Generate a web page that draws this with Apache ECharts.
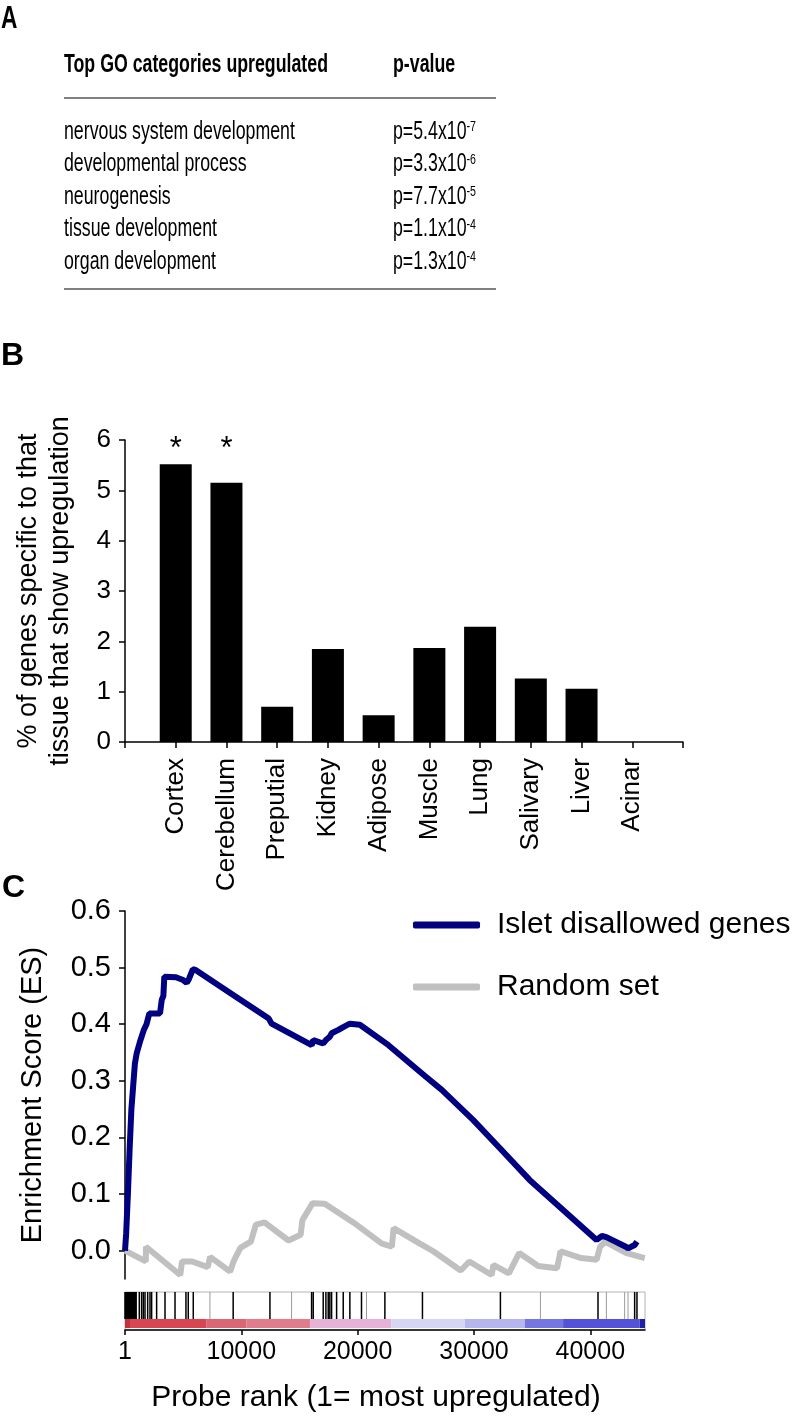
<!DOCTYPE html>
<html><head><meta charset="utf-8">
<script src="https://cdn.jsdelivr.net/npm/echarts@6/dist/echarts.min.js"></script>
<style>html,body{margin:0;padding:0;background:#fff}#c{width:796px;height:1417px}</style>
</head><body><div id="c"></div>
<script>
// ---------- Panel A data ----------
const goCategories = ['nervous system development','developmental process','neurogenesis','tissue development','organ development'];
const goPMantissa = ['5.4','3.3','7.7','1.1','1.3'];
const goPExponent = ['-7','-6','-5','-4','-4'];

// ---------- Panel B data ----------
const tissues = ['Cortex','Cerebellum','Preputial','Kidney','Adipose','Muscle','Lung','Salivary','Liver','Acinar'];
const tissuePct = [5.52,5.15,0.70,1.85,0.53,1.87,2.29,1.26,1.06,0];
const tissueSignif = [true,true,false,false,false,false,false,false,false,false];
const pctTicks = [0,1,2,3,4,5,6];

// ---------- Panel C data ----------
const isletRank = [1,100,250,400,550,700,850,1010,1300,1620,1850,2090,3010,3160,3300,3380,4380,5000,5310,5500,5830,6070,9140,12360,12460,12600,16050,16180,17040,17270,17610,17760,18350,18760,19330,20190,22650,25710,27230,29920,32270,34780,40540,41000,41380,43050,43240,43810,44010];
const isletES  = [0,0.03,0.10,0.18,0.25,0.29,0.33,0.349,0.37,0.39,0.40,0.419,0.419,0.443,0.45,0.484,0.483,0.478,0.473,0.48,0.497,0.496,0.454,0.410,0.412,0.401,0.363,0.372,0.366,0.372,0.378,0.384,0.390,0.395,0.401,0.399,0.363,0.310,0.284,0.231,0.180,0.125,0.019,0.026,0.024,0.007,0.004,0.010,0.016];
const randomRank = [1,1790,1800,4750,4900,5780,7110,7320,9040,9330,9920,10820,11250,11990,14060,15100,15250,16130,17170,19690,22050,22940,23090,25310,26500,28860,29600,31520,31670,33000,33890,35520,37140,37440,39210,40540,40840,41280,43050,44680];
const randomES  = [0,-0.019,0.007,-0.043,-0.019,-0.019,-0.029,-0.011,-0.037,-0.019,0.005,0.016,0.046,0.050,0.018,0.028,0.054,0.084,0.083,0.049,0.013,0.007,0.040,0.013,-0.001,-0.035,-0.019,-0.043,-0.025,-0.040,-0.004,-0.027,-0.031,-0.001,-0.013,-0.016,0.007,0.016,-0.004,-0.013];
const hitRanks = [1,60,120,180,240,300,360,420,480,540,600,660,720,780,840,900,960,1230,1430,1575,1720,1950,2150,2290,2720,3440,4300,5240,5440,5870,9300,12460,16040,16180,17040,17270,17470,17610,17760,18190,18760,19330,20330,22340,25570,32270,40660,43810,44010];
const faintHitRanks = [7300,14320,20760,35710,41380,42950,43240];
const stripBreaks = [1,430,7020,10450,15900,22910,29210,34360,37660,44240,44700];
const esTicks = [0,0.1,0.2,0.3,0.4,0.5,0.6];
const rankTicks = [1,10000,20000,30000,40000];

// ---------- styles ----------
const stripColors = ['#c4303e','#d84652','#db6674','#e07c8c','#e6b2d8','#d6d6f4','#b6b6ee','#7676e2','#5252da','#2020a6'];
const FONT = '"Liberation Sans", Arial, Helvetica, sans-serif';

const graphic = [];
function txt(x, y, text, size, bold, sx, extra) {
  graphic.push(Object.assign({type:'text', x:x, y:y, scaleX:sx||1, silent:true,
    style:Object.assign({text:text, fontSize:size, fontWeight:bold?'bold':'normal', fontFamily:FONT, fill:'#000', verticalAlign:'middle'}, extra||{})}));
}
const SX = 0.71;
txt(1, 19, 'A', 32, true, SX);
txt(64, 65, 'Top GO categories upregulated', 25, true, SX);
txt(393, 65, 'p-value', 25, true, SX);
graphic.push({type:'line', silent:true, shape:{x1:64,y1:98,x2:496,y2:98}, style:{stroke:'#808080', lineWidth:2}});
goCategories.forEach((c, i) => {
  const y = 132 + i * 32.5;
  txt(64, y, c, 25, false, SX);
  graphic.push({type:'text', x:393, y:y, scaleX:SX, silent:true, style:{
    text:'{m|p=' + goPMantissa[i] + 'x10}{e|' + goPExponent[i] + '}',
    verticalAlign:'middle', fill:'#000',
    rich:{m:{fontSize:25, fontFamily:FONT, fill:'#000'}, e:{fontSize:15, fontFamily:FONT, fill:'#000', verticalAlign:'top'}}
  }});
});
graphic.push({type:'line', silent:true, shape:{x1:64,y1:289,x2:496,y2:289}, style:{stroke:'#808080', lineWidth:2}});
txt(1, 356, 'B', 32, true, 1);
txt(2, 888, 'C', 32, true, 1);

const axisBlack = {show:true, lineStyle:{color:'#000', width:1.5}};
const tickBlack = {show:true, inside:false, length:6, lineStyle:{color:'#000', width:1.5}};
const pctMax = pctTicks[pctTicks.length - 1];

const option = {
  animation:false,
  backgroundColor:'#fff',
  textStyle:{fontFamily:FONT, color:'#000'},
  graphic: graphic,
  grid:[
    {left:125, top:440, width:558, height:302},
    {left:125, top:911, width:520, height:368},
    {left:125, top:1292, width:520, height:38, show:true, borderColor:'#b4b4b4', borderWidth:1, backgroundColor:'transparent'}
  ],
  legend:{
    data:['Islet disallowed genes','Random set'], orient:'vertical', left:413, top:910, padding:0,
    icon:'roundRect', itemWidth:67, itemHeight:7, itemGap:32, selectedMode:false,
    textStyle:{fontSize:30, color:'#000', fontFamily:FONT, padding:[0,0,0,12]}
  },
  xAxis:[
    {gridIndex:0, type:'value', min:0, max:11, interval:1, axisLine:axisBlack, axisTick:tickBlack, splitLine:{show:false},
     axisLabel:{rotate:90, fontSize:26, color:'#000', margin:16, formatter:v => tissues[v-1] || ''}},
    {gridIndex:1, type:'value', min:1, max:44700, show:false},
    {gridIndex:2, type:'value', min:1, max:44700, axisLine:axisBlack, splitLine:{show:false},
     axisTick:Object.assign({}, tickBlack, {length:5, customValues:rankTicks}),
     axisLabel:{customValues:rankTicks, fontSize:25, color:'#000', margin:10, formatter:v => String(v)},
     name:'Probe rank (1= most upregulated)', nameLocation:'middle', nameGap:53,
     nameTextStyle:{fontSize:30, color:'#000', padding:[0,18,0,0]}}
  ],
  yAxis:[
    {gridIndex:0, type:'value', min:0, max:pctMax, interval:1, axisLine:axisBlack, axisTick:tickBlack, splitLine:{show:false},
     axisLabel:{fontSize:26, color:'#000', margin:14},
     name:'% of genes specific to that\ntissue that show upregulation', nameLocation:'middle', nameGap:48,
     nameTextStyle:{fontSize:27, lineHeight:32, color:'#000'}},
    {gridIndex:1, type:'value', min:-0.05, max:0.6, axisLine:axisBlack, splitLine:{show:false},
     axisTick:Object.assign({}, tickBlack, {customValues:esTicks}),
     axisLabel:{customValues:esTicks, fontSize:29, color:'#000', margin:14, formatter:v => v.toFixed(1)},
     name:'Enrichment Score (ES)', nameLocation:'middle', nameGap:78,
     nameTextStyle:{fontSize:29, color:'#000'}},
    {gridIndex:2, type:'value', min:0, max:1, show:false}
  ],
  series:[
    {type:'bar', xAxisIndex:0, yAxisIndex:0, barWidth:32, silent:true,
     itemStyle:{color:'#000'},
     data: tissues.map((t, i) => [i + 1, tissuePct[i]])},
    {type:'scatter', xAxisIndex:0, yAxisIndex:0, silent:true, symbolSize:0,
     itemStyle:{opacity:1, color:'#000'},
     label:{show:true, formatter:'*', position:'inside', offset:[0, 9], fontSize:31, color:'#000', opacity:1},
     data: tissues.map((t, i) => [i + 1, pctMax]).filter((d, i) => tissueSignif[i])},
    {type:'line', name:'Random set', xAxisIndex:1, yAxisIndex:1, silent:true,
     symbol:'none', showSymbol:false, lineStyle:{color:'#c0c0c0', width:6}, itemStyle:{color:'#c0c0c0'},
     data: randomRank.map((r, i) => [r, randomES[i]])},
    {type:'line', name:'Islet disallowed genes', xAxisIndex:1, yAxisIndex:1, silent:true,
     symbol:'none', showSymbol:false, lineStyle:{color:'#000080', width:6}, itemStyle:{color:'#000080'},
     data: isletRank.map((r, i) => [r, isletES[i]])},
    {type:'custom', xAxisIndex:2, yAxisIndex:2, silent:true,
     data: stripBreaks.slice(0, -1).map((s, i) => [s, stripBreaks[i + 1]]),
     encode:{x:[0,1]},
     renderItem:(params, api) => {
       const p0 = api.coord([api.value(0), 0.29]);
       const p1 = api.coord([api.value(1), 0.05]);
       return {type:'rect', shape:{x:p0[0], y:p0[1], width:p1[0]-p0[0], height:p1[1]-p0[1]},
               style:{fill:stripColors[params.dataIndex]}};
     }},
    {type:'custom', xAxisIndex:2, yAxisIndex:2, silent:true,
     data: faintHitRanks.map(r => [r, 1]),
     renderItem:(params, api) => {
       const a = api.coord([api.value(0), 0.29]);
       const b = api.coord([api.value(0), 1]);
       return {type:'line', shape:{x1:a[0], y1:a[1], x2:b[0], y2:b[1]}, style:{stroke:'#9a9a9a', lineWidth:1}};
     }},
    {type:'custom', xAxisIndex:2, yAxisIndex:2, silent:true,
     data: hitRanks.map(r => [r, 1]),
     renderItem:(params, api) => {
       const a = api.coord([api.value(0), 0.29]);
       const b = api.coord([api.value(0), 1]);
       return {type:'line', shape:{x1:a[0], y1:a[1], x2:b[0], y2:b[1]}, style:{stroke:'#000', lineWidth:1.5}};
     }}
  ]
};
const chart = echarts.init(document.getElementById('c'), null, {renderer:'canvas'});
chart.setOption(option);
</script>
</body></html>
